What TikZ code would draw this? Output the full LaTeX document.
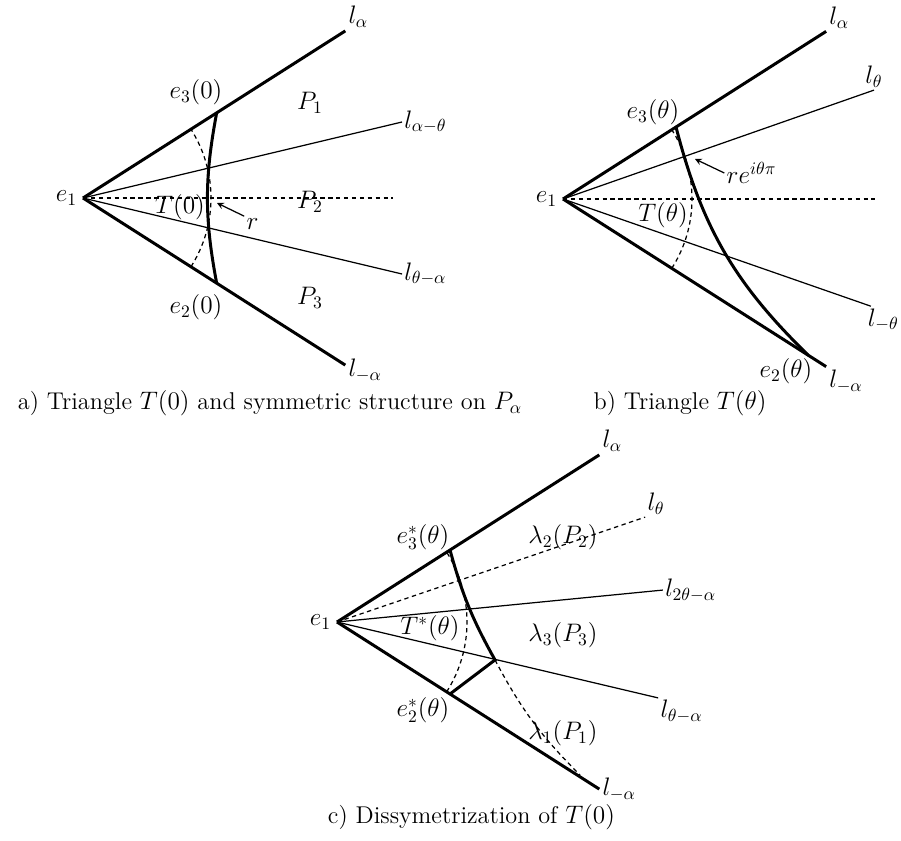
\documentclass[tikz,border=0pt]{standalone}
\begin{document}
\begin{tikzpicture}[>=stealth, line width=0.7pt,
  thickline/.style={line width=1.7pt},
  dashline/.style={dash pattern=on 2.5pt off 2pt},
  every node/.style={inner sep=1pt, font=\fontsize{13.8}{16}\selectfont}]
  \useasboundingbox (0,0) rectangle (18.02,-16.8);

  % a) triangle T(0)
  \begin{scope}[shift={(1.66,-3.96)}]
    \coordinate (A1) at (0,0);
    \coordinate (A3) at (32.5:3.17);
    \coordinate (A2) at (-32.5:3.17);
    \coordinate (atip) at (2.68,-0.10);
    \draw[thickline] (A1) -- (32.5:6.22) node[above right] (ala) {$l_\alpha$};
    \draw[thickline] (A1) -- (-32.5:6.22) node[right, yshift=-3pt] (alma) {$l_{-\alpha}$};
    \draw (A1) -- (13.4:6.56) node[right] (alat) {$l_{\alpha-\theta}$};
    \draw (A1) -- (-13.4:6.56) node[right] (alta) {$l_{\theta-\alpha}$};
    \draw[dashline] (A1) -- (6.2,0);
    \draw[dashline] (-32.5:2.56) arc (-32.5:32.5:2.56);
    \draw[thickline] (A2) to[bend left=10.7] (A3);
    \node[left=2pt] (ae1) at (A1) {$e_1$};
    \node (ae3) at (2.26,2.12) {$e_3(0)$};
    \node (ae2) at (2.26,-2.19) {$e_2(0)$};
    \node (ap1) at (4.54,1.90) {$P_1$};
    \node (ap2) at (4.54,-0.08) {$P_2$};
    \node (ap3) at (4.54,-2.0) {$P_3$};
    \node (aT) at (1.94,-0.18) {$T(0)$};
    \node (ar) at (3.39,-0.52) {$r$};
    \draw[->] (ar.north west) -- (atip);
  \end{scope}

  % b) triangle T(theta)
  \begin{scope}[shift={(11.26,-3.98)}]
    \coordinate (B1) at (0,0);
    \coordinate (B3) at (32.5:2.68);
    \coordinate (B2) at (-32.5:5.82);
    \coordinate (btip) at (2.64,0.80);
    \draw[thickline] (B1) -- (32.5:6.24) node[above right] (bla) {$l_\alpha$};
    \draw[thickline] (B1) -- (-32.5:6.24) node[below right] (blma) {$l_{-\alpha}$};
    \draw (B1) -- (19.3:6.59) node[above] (blt) {$l_\theta$};
    \draw (B1) -- (-19.2:6.52) node[below right, xshift=-3pt] (blmt) {$l_{-\theta}$};
    \draw[dashline] (B1) -- (6.24,0);
    \draw[dashline] (-32.5:2.58) arc (-32.5:32.5:2.58);
    \draw[thickline] (B3) to[bend right=15.7] (B2);
    \node[left=2pt] (be1) at (B1) {$e_1$};
    \node (be3) at (1.80,1.74) {$e_3(\theta)$};
    \node (be2) at (4.46,-3.44) {$e_2(\theta)$};
    \node (bT) at (2.0,-0.32) {$T(\theta)$};
    \node (brexp) at (3.77,0.52) {$re^{i\theta\pi}$};
    \draw[->] (brexp.west) -- (btip);
  \end{scope}

  % c) dissymetrization
  \begin{scope}[shift={(6.74,-12.44)}]
    \coordinate (C1) at (0,0);
    \coordinate (C3) at (32.5:2.68);
    \coordinate (C2) at (-32.5:2.68);
    \coordinate (CV) at (-13.5:3.25);
    \coordinate (Cend) at (4.86,-3.06);
    \draw[thickline] (C1) -- (32.5:6.22) node[above right] (cla) {$l_\alpha$};
    \draw[thickline] (C1) -- (-32.5:6.22) node[right] (clma) {$l_{-\alpha}$};
    \draw[dashline] (C1) -- (18.8:6.51) node[above right] (clt) {$l_\theta$};
    \draw (C1) -- (5.6:6.55) node[right] (cltta) {$l_{2\theta-\alpha}$};
    \draw (C1) -- (-13.3:6.60) node[below right] (clta) {$l_{\theta-\alpha}$};
    \draw[dashline] (-32.5:2.6) arc (-32.5:32.5:2.6);
    \draw[thickline] (C3) to[bend right=6.9] (CV) -- (C2);
    \draw[dashline] (CV) to[bend right=8.5] (Cend);
    \node[left=2pt] (ce1) at (C1) {$e_1$};
    \node (ce3) at (1.72,1.70) {$e_3^*(\theta)$};
    \node (ce2) at (1.72,-1.76) {$e_2^*(\theta)$};
    \node (cT) at (1.86,-0.12) {$T^*(\theta)$};
    \node (cl2) at (4.52,1.70) {$\lambda_2(P_2)$};
    \node (cl3) at (4.52,-0.26) {$\lambda_3(P_3)$};
    \node (cl1) at (4.52,-2.22) {$\lambda_1(P_1)$};
  \end{scope}

  \node (capa) at (5.40,-8.06) {a) Triangle $T(0)$ and symmetric structure on $P_\alpha$};
  \node (capb) at (13.6,-8.06) {b) Triangle $T(\theta)$};
  \node (capc) at (9.43,-16.34) {c) Dissymetrization of $T(0)$};
\end{tikzpicture}
\end{document}
